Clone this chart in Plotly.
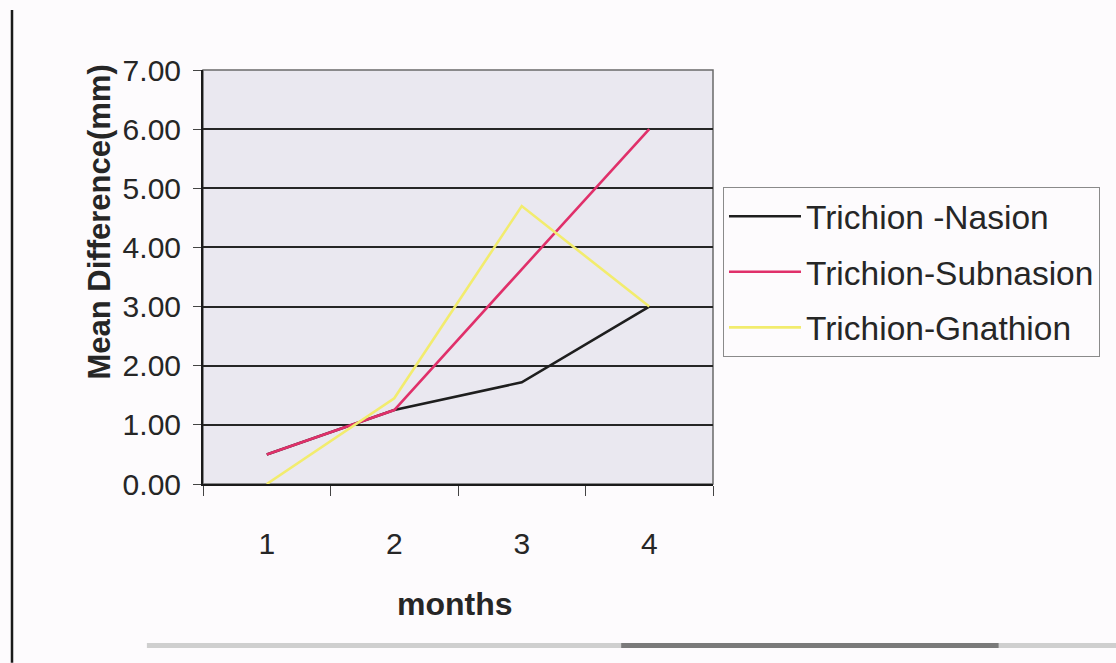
import plotly.graph_objects as go

# Measurement months and mean differences (mm) for each facial distance
months = ["1", "2", "3", "4"]
trichion_nasion = [0.50, 1.25, 1.72, 3.00]
trichion_subnasion = [0.50, 1.25, 3.63, 6.00]
trichion_gnathion = [0.00, 1.45, 4.70, 3.00]

series_names = ["Trichion -Nasion", "Trichion-Subnasion", "Trichion-Gnathion"]
series_values = [trichion_nasion, trichion_subnasion, trichion_gnathion]
series_colors = ["#1e1e1e", "#e0306a", "#f2ec6e"]

y_ticks = [0, 1, 2, 3, 4, 5, 6, 7]
y_tick_text = [f"{v:.2f}" for v in y_ticks]

FONT = "Liberation Sans, Arial, sans-serif"

fig = go.Figure()
for i, (name, vals, col) in enumerate(zip(series_names, series_values, series_colors)):
    fig.add_trace(go.Scatter(
        x=months, y=vals, name=name, mode="lines",
        line=dict(color=col, width=2.6),
        legendgroup=f"g{i}",
    ))

fig.update_layout(
    width=1116, height=663,
    margin=dict(l=203, r=403, t=70, b=179),
    paper_bgcolor="#fdfbfd",
    plot_bgcolor="#eae8f0",
    font=dict(family=FONT, color="#262626"),
    showlegend=True,
    legend=dict(
        x=1.0196, xanchor="left", y=0.7174, yanchor="top",
        bgcolor="#fdfbfd", bordercolor="#8a8a8a", borderwidth=1,
        font=dict(size=33.5, family=FONT, color="#262626"),
        itemwidth=72, tracegroupgap=9,
    ),
    xaxis=dict(
        type="category", range=[-0.5, 3.5],
        showgrid=False, zeroline=False,
        showline=True, linecolor="#1a1a1a", linewidth=2,
        ticks="outside", tickson="boundaries", ticklen=10,
        tickcolor="#444", tickwidth=1,
        tickfont=dict(size=30, family=FONT, color="#262626"),
        ticklabelstandoff=32,
    ),
    yaxis=dict(
        range=[0, 7], tickvals=y_ticks, ticktext=y_tick_text,
        showgrid=True, gridcolor="#262626", gridwidth=2,
        zeroline=False,
        showline=True, linecolor="#1a1a1a", linewidth=2,
        ticks="outside", ticklen=8, tickcolor="#444", tickwidth=1,
        tickfont=dict(size=30, family=FONT, color="#262626"),
        ticklabelstandoff=6,
    ),
    annotations=[
        dict(text="<b>Mean Difference(mm)</b>", textangle=-90,
             xref="paper", yref="paper", x=-0.241, y=0.633,
             showarrow=False, font=dict(size=31, family=FONT, color="#262626")),
        dict(text="<b>months</b>",
             xref="paper", yref="paper", x=0.495, y=-0.338,
             showarrow=False, font=dict(size=32, family=FONT, color="#262626")),
    ],
    shapes=[
        # plot area frame (grey right edge)
        dict(type="rect", xref="paper", yref="paper", x0=0, x1=1, y0=0, y1=1,
             line=dict(color="#6a6a6a", width=1.5), layer="below"),
        # left page rule
        dict(type="line", xref="paper", yref="paper",
             x0=-0.3745, x1=-0.3745, y0=1.145, y1=-0.432,
             line=dict(color="#1a1a1a", width=2.5)),
        # bottom page rule
        dict(type="line", xref="paper", yref="paper",
             x0=-0.11, x1=1.8, y0=-0.39, y1=-0.39,
             line=dict(color="#cfcfcf", width=5)),
        dict(type="line", xref="paper", yref="paper",
             x0=0.82, x1=1.56, y0=-0.39, y1=-0.39,
             line=dict(color="#7a7a7a", width=5)),
    ],
)

fig.write_html("out.html")
